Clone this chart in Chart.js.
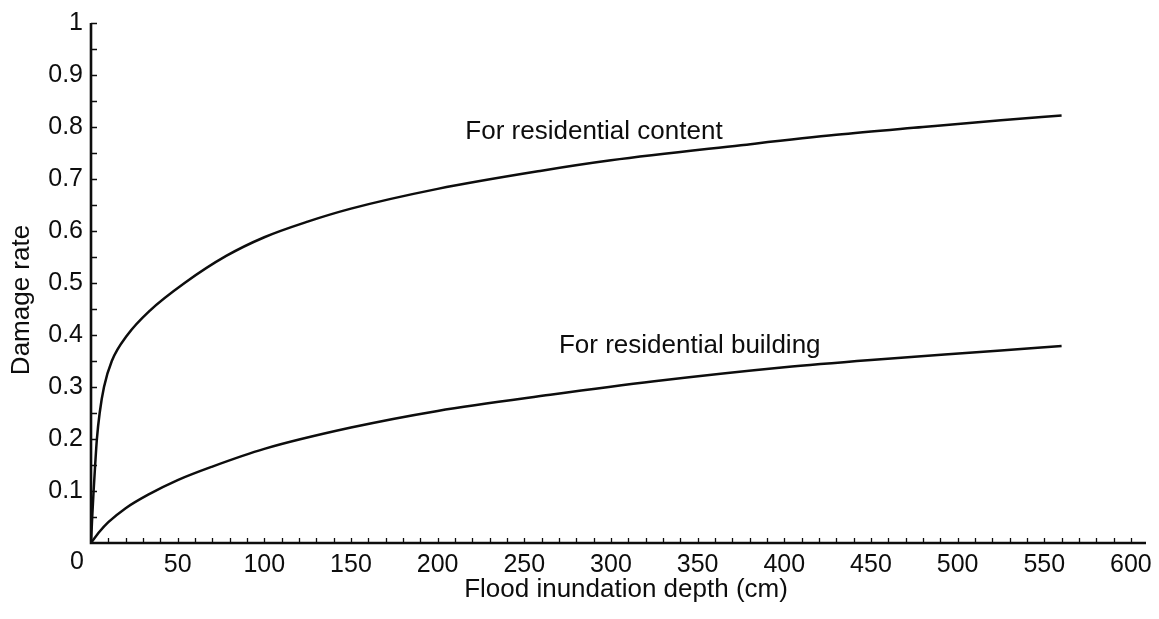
<!DOCTYPE html>
<html>
<head>
<meta charset="utf-8">
<script src="https://cdn.jsdelivr.net/npm/chart.js@4.4.1/dist/chart.umd.min.js"></script>
<style>
  html, body { margin: 0; padding: 0; background: #ffffff; }
  #wrap { width: 1159px; height: 619px; position: relative; }
</style>
</head>
<body>
<div id="wrap"><canvas id="c"></canvas></div>
<script>
// Depth-damage curves: flood inundation depth (cm) against damage rate
const depthContent = [0, 0.7, 1.5, 2.4, 3.4, 5, 7.5, 12, 21, 34, 54, 78, 100, 125, 150, 200, 260, 300, 375, 430, 480, 525, 560];
const rateContent  = [0, 0.05, 0.10, 0.15, 0.20, 0.25, 0.30, 0.35, 0.40, 0.447, 0.500, 0.552, 0.588, 0.618, 0.643, 0.681, 0.716, 0.736, 0.765, 0.785, 0.800, 0.813, 0.822];

const depthBuilding = [0, 5, 10, 20, 33, 50, 70, 100, 150, 200, 265, 325, 400, 450, 525, 560];
const rateBuilding  = [0, 0.022, 0.04, 0.067, 0.093, 0.121, 0.147, 0.181, 0.222, 0.254, 0.285, 0.311, 0.338, 0.352, 0.370, 0.379];

const seriesNames = ['For residential content', 'For residential building'];

const xTickLabels = [0, 50, 100, 150, 200, 250, 300, 350, 400, 450, 500, 550, 600];
const yTickLabels = [0.1, 0.2, 0.3, 0.4, 0.5, 0.6, 0.7, 0.8, 0.9, 1];
const xMinorStep = 10;
const yMinorStep = 0.05;

const xTitle = 'Flood inundation depth (cm)';
const yTitle = 'Damage rate';

const FONT = '"Liberation Sans", Arial, Helvetica, sans-serif';
const INK = '#0d0d0d';

function toPoints(xs, ys) {
  return xs.map((x, i) => ({ x: x, y: ys[i] }));
}

// Axis lines, inward tick marks, titles and curve labels
const frame = {
  id: 'frame',
  afterDraw(chart) {
    const { ctx, chartArea: a, scales: { x, y } } = chart;
    ctx.save();
    ctx.strokeStyle = INK;

    // tick marks pointing into the plot
    ctx.lineWidth = 1.3;
    ctx.beginPath();
    for (let v = xMinorStep; v <= 600 + 1e-6; v += xMinorStep) {
      const px = Math.round(x.getPixelForValue(v)) + 0.5;
      ctx.moveTo(px, a.bottom);
      ctx.lineTo(px, a.bottom - 5);
    }
    for (let k = 1; k * yMinorStep <= 1 + 1e-9; k++) {
      const py = Math.round(y.getPixelForValue(k * yMinorStep)) + 0.5;
      ctx.moveTo(a.left, py);
      ctx.lineTo(a.left + 6, py);
    }
    ctx.stroke();

    // axis lines
    ctx.lineWidth = 2.6;
    ctx.beginPath();
    ctx.moveTo(a.left, y.getPixelForValue(1));
    ctx.lineTo(a.left, a.bottom);
    ctx.lineTo(a.right, a.bottom);
    ctx.stroke();

    ctx.fillStyle = INK;

    // origin label sits left of the axis corner
    ctx.font = '25px ' + FONT;
    ctx.textAlign = 'center';
    ctx.textBaseline = 'top';
    ctx.fillText('0', x.getPixelForValue(0) - 14, a.bottom + 7);

    // axis titles
    ctx.font = '26px ' + FONT;
    ctx.textAlign = 'center';
    ctx.textBaseline = 'middle';
    ctx.fillText(xTitle, 626, 590);
    ctx.save();
    ctx.translate(22, 300);
    ctx.rotate(-Math.PI / 2);
    ctx.fillText(yTitle, 0, 0);
    ctx.restore();

    // curve labels
    ctx.textAlign = 'left';
    ctx.textBaseline = 'alphabetic';
    ctx.fillText(seriesNames[0], x.getPixelForValue(216), y.getPixelForValue(0.777));
    ctx.fillText(seriesNames[1], x.getPixelForValue(270), y.getPixelForValue(0.366));
    ctx.restore();
  }
};

const lineStyle = {
  showLine: true,
  borderColor: INK,
  borderWidth: 2.5,
  pointRadius: 0,
  pointHoverRadius: 0,
  fill: false,
  cubicInterpolationMode: 'monotone'
};

new Chart(document.getElementById('c'), {
  type: 'scatter',
  data: {
    datasets: [
      Object.assign({ label: seriesNames[0], data: toPoints(depthContent, rateContent) }, lineStyle),
      Object.assign({ label: seriesNames[1], data: toPoints(depthBuilding, rateBuilding) }, lineStyle)
    ]
  },
  options: {
    responsive: true,
    maintainAspectRatio: false,
    animation: false,
    layout: { padding: { left: 0, right: 13, top: 20, bottom: 0 } },
    plugins: { legend: { display: false }, tooltip: { enabled: false } },
    scales: {
      x: {
        type: 'linear',
        min: 0,
        max: 608.7,
        afterBuildTicks(s) { s.ticks = xTickLabels.map(v => ({ value: v })); },
        afterFit(s) { s.height = 76; },
        grid: { display: false, drawTicks: false },
        border: { display: false },
        ticks: {
          autoSkip: false,
          maxRotation: 0,
          padding: 7,
          color: INK,
          font: { family: FONT, size: 25 },
          callback: v => (v === 0 ? '' : String(v))
        }
      },
      y: {
        type: 'linear',
        min: 0,
        max: 1,
        afterBuildTicks(s) { s.ticks = yTickLabels.map(v => ({ value: v })); },
        afterFit(s) { s.width = 91; },
        grid: { display: false, drawTicks: false },
        border: { display: false },
        ticks: {
          autoSkip: false,
          padding: 8,
          color: INK,
          font: { family: FONT, size: 25 },
          callback: v => String(v)
        }
      }
    }
  },
  plugins: [frame]
});
</script>
</body>
</html>
